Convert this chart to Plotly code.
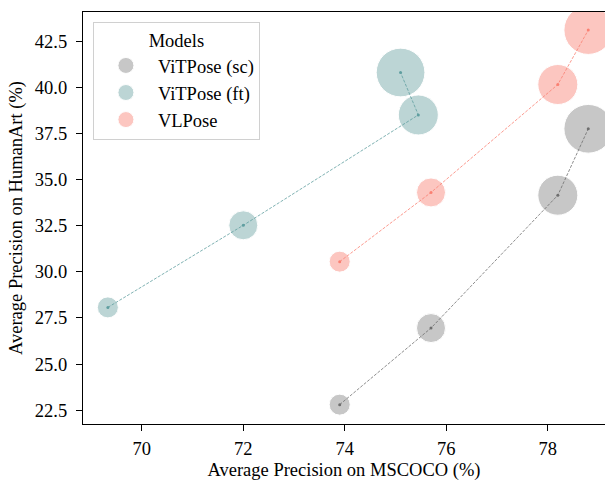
import plotly.graph_objects as go

# Data
models = ["ViTPose (sc)", "ViTPose (ft)", "VLPose"]
sc_coco = [73.9, 75.7, 78.2, 78.8]
sc_human = [22.8, 26.95, 34.15, 37.75]
ft_coco = [69.33, 72.0, 75.45, 75.1]
ft_human = [28.07, 32.52, 38.5, 40.8]
vl_coco = [73.9, 75.7, 78.2, 78.8]
vl_human = [30.55, 34.3, 40.15, 43.1]
model_size = [21, 29, 40, 48.7]  # bubble diameter per model scale (S, B, L, H)

fill_colors = ["rgb(176,176,176)", "rgb(160,196,196)", "rgb(252,174,166)"]
line_colors = ["rgb(110,110,110)", "rgb(95,158,160)", "rgb(250,128,114)"]

series = [(sc_coco, sc_human), (ft_coco, ft_human), (vl_coco, vl_human)]

font_family = "Liberation Serif"
FS = 18.5
fig = go.Figure()
for name, (xs, ys), fc in zip(models, series, fill_colors):
    fig.add_trace(go.Scatter(
        x=xs, y=ys, mode="markers", name=name,
        marker=dict(size=model_size, color=fc, line=dict(color="white", width=1)),
    ))
for name, (xs, ys), lc in zip(models, series, line_colors):
    fig.add_trace(go.Scatter(
        x=xs, y=ys, mode="lines+markers", showlegend=False,
        line=dict(color=lc, width=0.8, dash="3px,1.5px"),
        marker=dict(size=3, color=lc),
    ))

axis_common = dict(
    showgrid=False, zeroline=False, showline=True, linecolor="black", linewidth=1.2,
    ticks="outside", ticklen=6, tickwidth=1, tickcolor="black", automargin=False,
    tickfont=dict(family=font_family, size=FS, color="black"),
)
fig.update_layout(
    width=605, height=481,
    margin=dict(l=83, r=0, t=12, b=57),
    plot_bgcolor="white", paper_bgcolor="white",
    font=dict(family=font_family, color="black"),
    xaxis=dict(range=[68.84, 79.13], tickvals=[70, 72, 74, 76, 78], mirror=True,
               ticklabelstandoff=2,
               title=dict(text="Average Precision on MSCOCO (%)", font=dict(size=FS), standoff=6),
               **axis_common),
    yaxis=dict(range=[21.75, 44.08], tickvals=[22.5, 25, 27.5, 30, 32.5, 35, 37.5, 40, 42.5],
               tickformat=".1f", ticklabelstandoff=5,
               title=dict(text="Average Precision on HumanArt (%)", font=dict(size=FS), standoff=7),
               **axis_common),
    legend=dict(
        x=0.019, y=0.976, xanchor="left", yanchor="top", itemwidth=54,
        title=dict(text="Models", side="top center", font=dict(size=FS)),
        font=dict(size=FS), bordercolor="#d0d0d0", borderwidth=1, bgcolor="white",
    ),
)
fig.write_html("out.html", post_script="document.body.style.margin='0';",
               config={"displayModeBar": False})
